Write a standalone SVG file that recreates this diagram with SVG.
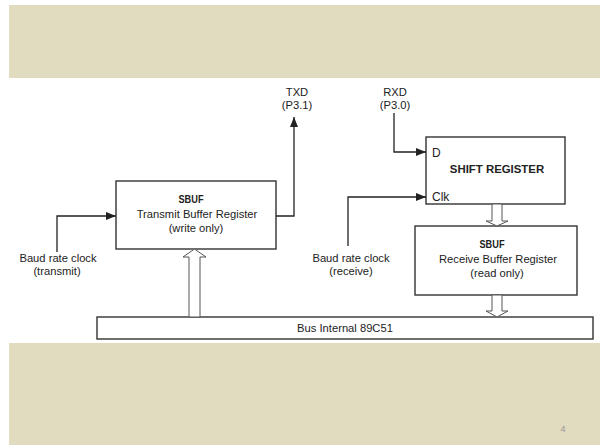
<svg xmlns="http://www.w3.org/2000/svg" width="600" height="445" viewBox="0 0 600 445">
<style>
  text { font-family: "Liberation Sans", Arial, sans-serif; fill: #222; }
  .lbl { font-size: 11.2px; text-anchor: middle; }
  .bold { font-size: 11px; font-weight: bold; text-anchor: middle; }
  .box { fill: #fff; stroke: #333; stroke-width: 1.4; }
  .wire { fill: none; stroke: #222; stroke-width: 1.3; }
  .hollow { fill: #fff; stroke: #555; stroke-width: 1; }
  .band { fill: #e1dbbf; }
</style>
<defs>
  <marker id="arr" viewBox="0 0 10 8" refX="10" refY="4" markerWidth="10" markerHeight="8" markerUnits="userSpaceOnUse" orient="auto">
    <path d="M0,0 L10,4 L0,8 z" fill="#222"/>
  </marker>
</defs>
<rect x="0" y="0" width="600" height="445" fill="#fff"/>
<rect class="band" x="9" y="5" width="591" height="73"/>
<rect class="band" x="9" y="343" width="591" height="102"/>

<g id="bus">
  <rect class="box" x="97" y="317" width="496" height="22"/>
  <text class="lbl" x="345" y="332">Bus Internal 89C51</text>
</g>

<g id="sbuf-tx">
  <rect class="box" x="116" y="181" width="160" height="68"/>
  <text class="bold" x="191" y="203" textLength="25" lengthAdjust="spacingAndGlyphs">SBUF</text>
  <text class="lbl" x="197" y="218">Transmit Buffer Register</text>
  <text class="lbl" x="196" y="232">(write only)</text>
</g>

<g id="shift-reg">
  <rect class="box" x="426" y="137" width="139" height="67"/>
  <text x="432" y="157" style="font-size:12px">D</text>
  <text x="497" y="173" style="font-size:11.4px;font-weight:bold;text-anchor:middle">SHIFT REGISTER</text>
  <text x="432" y="201" style="font-size:12px">Clk</text>
</g>

<g id="sbuf-rx">
  <rect class="box" x="415" y="226" width="162" height="69"/>
  <text class="bold" x="492" y="248" textLength="25" lengthAdjust="spacingAndGlyphs">SBUF</text>
  <text class="lbl" x="498" y="263">Receive Buffer Register</text>
  <text class="lbl" x="497" y="277">(read only)</text>
</g>

<g id="labels">
  <text class="lbl" x="297" y="96">TXD</text>
  <text class="lbl" x="297" y="109">(P3.1)</text>
  <text class="lbl" x="395" y="96">RXD</text>
  <text class="lbl" x="395" y="109">(P3.0)</text>
  <text class="lbl" x="58" y="262">Baud rate clock</text>
  <text class="lbl" x="57" y="275">(transmit)</text>
  <text class="lbl" x="351" y="262">Baud rate clock</text>
  <text class="lbl" x="351" y="275">(receive)</text>
</g>

<g id="connectors">
  <path class="wire" d="M57,252 V216 H116" marker-end="url(#arr)"/>
  <path class="wire" d="M276,216 H294 V117" marker-end="url(#arr)"/>
  <path class="wire" d="M394,113 V152 H426" marker-end="url(#arr)"/>
  <path class="wire" d="M348,246 V197 H426" marker-end="url(#arr)"/>
  <path class="hollow" d="M189,317 V257 H183 L194.5,249 L206,257 H200 V317 Z"/>
  <path class="hollow" d="M492,204 V221 H486 L497,226 L508,221 H502 V204 Z"/>
  <path class="hollow" d="M492,295 V311 H486 L497,317 L508,311 H502 V295 Z"/>
</g>

<text x="563" y="432" style="font-size:9px;fill:#999;text-anchor:middle">4</text>
</svg>
